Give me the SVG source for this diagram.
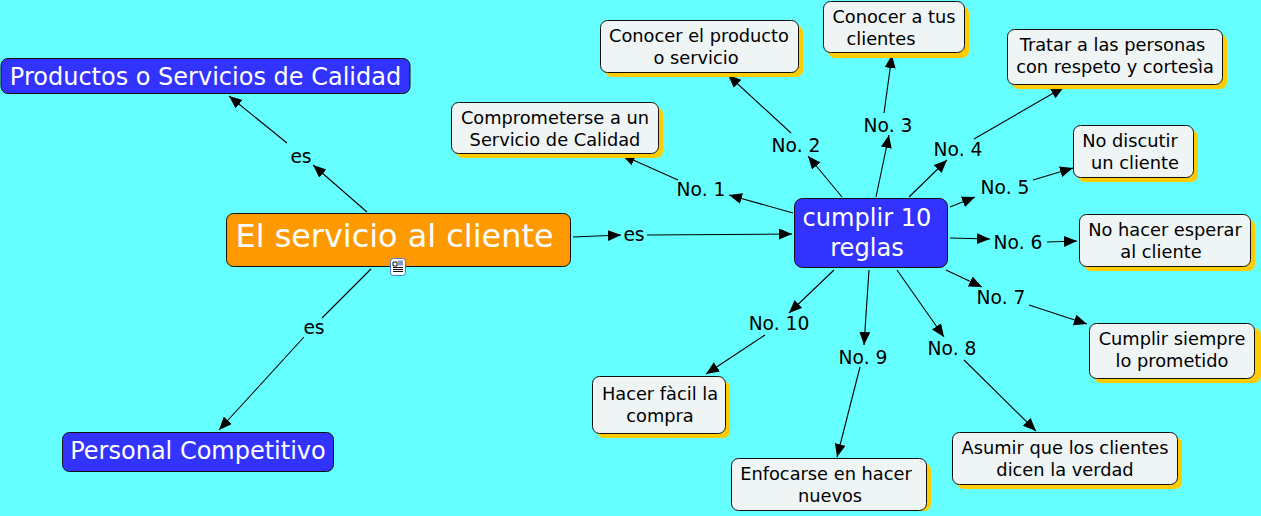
<svg xmlns="http://www.w3.org/2000/svg" width="1261" height="516" viewBox="0 0 1261 516">
<style>
text{font-family:"DejaVu Sans",Verdana,sans-serif;text-anchor:middle}
.b{fill:#3333ff;stroke:#111;stroke-width:1}
.o{fill:#ff9900;stroke:#111;stroke-width:1}
.w{fill:#eff4f5;stroke:#111;stroke-width:1}
.s{fill:#ffcc00}
.t{font-size:17.800px;fill:#000;transform:translateY(.6px)}
.l{font-size:18.700px;fill:#000;transform:translateY(.8px)}
.c{fill:#fff}
#connectors line{stroke:#000;stroke-width:1.100;fill:none}
</style>
<defs><marker id="a" markerUnits="userSpaceOnUse" markerWidth="14" markerHeight="12" refX="13" refY="5.500" orient="auto"><path d="M0 0L13 5.500L0 11z" fill="#000"/></marker></defs>
<rect width="1261" height="516" fill="#66ffff"/>
<g id="connectors">
<line x1="367" y1="212" x2="313" y2="165" marker-end="url(#a)"/>
<line x1="287" y1="143" x2="229" y2="96" marker-end="url(#a)"/>
<line x1="371" y1="269" x2="322" y2="318"/>
<line x1="304" y1="337" x2="219" y2="430" marker-end="url(#a)"/>
<line x1="573" y1="237" x2="621" y2="235" marker-end="url(#a)"/>
<line x1="647" y1="235" x2="792" y2="234" marker-end="url(#a)"/>
<line x1="793" y1="213" x2="729" y2="195" marker-end="url(#a)"/>
<line x1="678" y1="180" x2="622" y2="155" marker-end="url(#a)"/>
<line x1="842" y1="197" x2="808" y2="156" marker-end="url(#a)"/>
<line x1="791" y1="133" x2="728" y2="75" marker-end="url(#a)"/>
<line x1="876" y1="197" x2="889" y2="135" marker-end="url(#a)"/>
<line x1="884" y1="113" x2="892" y2="55" marker-end="url(#a)"/>
<line x1="909" y1="197" x2="947" y2="160" marker-end="url(#a)"/>
<line x1="974" y1="139" x2="1064" y2="87" marker-end="url(#a)"/>
<line x1="950" y1="207" x2="975" y2="197" marker-end="url(#a)"/>
<line x1="1033" y1="180" x2="1073" y2="168" marker-end="url(#a)"/>
<line x1="950" y1="238" x2="990" y2="239" marker-end="url(#a)"/>
<line x1="1047" y1="242" x2="1077" y2="241" marker-end="url(#a)"/>
<line x1="946" y1="270" x2="982" y2="287" marker-end="url(#a)"/>
<line x1="1029" y1="305" x2="1087" y2="324" marker-end="url(#a)"/>
<line x1="897" y1="270" x2="944" y2="337" marker-end="url(#a)"/>
<line x1="964" y1="360" x2="1036" y2="431" marker-end="url(#a)"/>
<line x1="869" y1="270" x2="864" y2="345" marker-end="url(#a)"/>
<line x1="860" y1="367" x2="837" y2="457" marker-end="url(#a)"/>
<line x1="834" y1="270" x2="789" y2="313" marker-end="url(#a)"/>
<line x1="765" y1="335" x2="706" y2="374" marker-end="url(#a)"/>
</g>
<g id="labels">
<text class="l" x="301" y="162">es</text>
<text class="l" x="314" y="333">es</text>
<text class="l" x="634" y="240">es</text>
<text class="l" x="701" y="195">No. 1</text>
<text class="l" x="796" y="151">No. 2</text>
<text class="l" x="888" y="131">No. 3</text>
<text class="l" x="958" y="155">No. 4</text>
<text class="l" x="1005" y="193">No. 5</text>
<text class="l" x="1018" y="248">No. 6</text>
<text class="l" x="1001" y="303">No. 7</text>
<text class="l" x="952" y="354">No. 8</text>
<text class="l" x="863" y="363">No. 9</text>
<text class="l" x="779" y="329">No. 10</text>
</g>
<g id="n-servicio"><rect class="o" x="226.500" y="213.500" width="344" height="53" rx="7"/><text class="c" x="394.500" y="247" font-size="31.900">El servicio al cliente</text>
<g id="doc-icon"><rect x="390.500" y="258.500" width="15" height="17" rx="3" fill="#fff" stroke="#4a78c8"/><path d="M393 262h4v4h-4zM393 267.500h10M393 269.500h10M393 271.500h10" fill="none" stroke="#111"/><rect x="398" y="260.500" width="5" height="5" fill="#8899bb"/></g></g>
<g id="n-productos"><rect class="b" x="1" y="58.500" width="409" height="35" rx="7"/><text class="c" x="205.500" y="85" font-size="24">Productos o Servicios de Calidad</text></g>
<g id="n-personal"><rect class="b" x="62.500" y="432.500" width="271" height="39" rx="7"/><text class="c" x="198" y="459" font-size="24">Personal Competitivo</text></g>
<g id="n-cumplir"><rect class="b" x="794.500" y="198.500" width="153" height="69" rx="8"/><text class="c" x="867" y="226" font-size="24.100">cumplir 10</text><text class="c" x="867" y="256" font-size="24.100">reglas</text></g>
<g id="n-1"><rect class="s" x="456" y="107" width="207" height="51" rx="7"/><rect class="w" x="451.500" y="102.500" width="207" height="51" rx="7"/><text class="t" x="555" y="123">Comprometerse a un</text><text class="t" x="555" y="145">Servicio de Calidad</text></g>
<g id="n-2"><rect class="s" x="605" y="25" width="198" height="52" rx="7"/><rect class="w" x="600.500" y="20.500" width="198" height="52" rx="7"/><text class="t" x="699" y="41">Conocer el producto</text><text class="t" x="696" y="63">o servicio</text></g>
<g id="n-3"><rect class="s" x="828" y="6" width="141" height="52" rx="7"/><rect class="w" x="823.500" y="1.500" width="141" height="51" rx="7"/><text class="t" x="894" y="22">Conocer a tus</text><text class="t" x="881" y="44">clientes</text></g>
<g id="n-4"><rect class="s" x="1012" y="34" width="215" height="55" rx="7"/><rect class="w" x="1007.500" y="29.500" width="215" height="55" rx="7"/><text class="t" x="1112.500" y="50">Tratar a las personas</text><text class="t" x="1115" y="72">con respeto y cortesìa</text></g>
<g id="n-5"><rect class="s" x="1078" y="130" width="120" height="52" rx="7"/><rect class="w" x="1073.500" y="125.500" width="120" height="52" rx="7"/><text class="t" x="1130" y="146">No discutir</text><text class="t" x="1135" y="168">un cliente</text></g>
<g id="n-6"><rect class="s" x="1084" y="219" width="171" height="52" rx="7"/><rect class="w" x="1079.500" y="214.500" width="171" height="52" rx="7"/><text class="t" x="1165" y="235">No hacer esperar</text><text class="t" x="1161" y="257">al cliente</text></g>
<g id="n-7"><rect class="s" x="1094" y="328" width="167" height="55" rx="7"/><rect class="w" x="1089.500" y="323.500" width="165" height="55" rx="7"/><text class="t" x="1172" y="344">Cumplir siempre</text><text class="t" x="1172" y="366">lo prometido</text></g>
<g id="n-8"><rect class="s" x="957" y="437" width="225" height="52" rx="7"/><rect class="w" x="952.500" y="432.500" width="225" height="52" rx="7"/><text class="t" x="1065" y="453">Asumir que los clientes</text><text class="t" x="1065" y="475">dicen la verdad</text></g>
<g id="n-9"><rect class="s" x="736" y="463" width="195" height="48" rx="7"/><rect class="w" x="731.500" y="458.500" width="195" height="52" rx="7"/><text class="t" x="826" y="479">Enfocarse en hacer</text><text class="t" x="830" y="501">nuevos</text></g>
<g id="n-10"><rect class="s" x="597" y="381" width="133" height="57" rx="7"/><rect class="w" x="592.500" y="376.500" width="133" height="57" rx="7"/><text class="t" x="660" y="399">Hacer fàcil la</text><text class="t" x="660" y="421">compra</text></g>
</svg>
